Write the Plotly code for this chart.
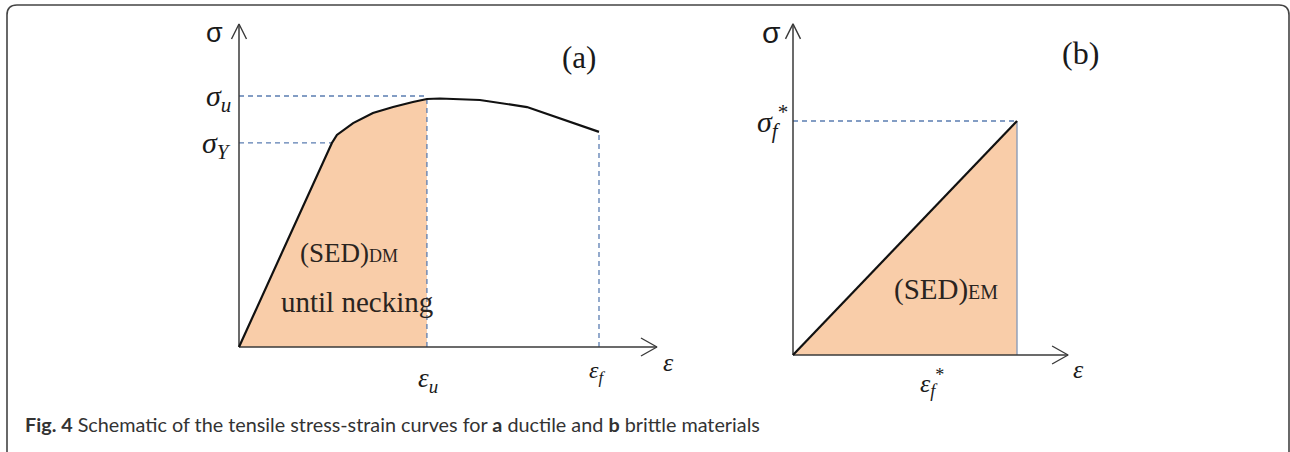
import plotly.graph_objects as go

# ---- panel (a): ductile material (normalised strain / stress) ----
A_STRAIN = [0.0, 0.258, 0.272, 0.317, 0.372, 0.428, 0.483, 0.522, 0.558, 0.669, 0.800, 0.856, 1.000]
A_STRESS = [0.0, 0.813, 0.845, 0.892, 0.932, 0.956, 0.976, 0.988, 0.990, 0.984, 0.956, 0.928, 0.857]
A_EPS_U, A_EPS_F = 0.522, 1.0
A_SIG_U, A_SIG_Y = 1.0, 0.813
A_X_END, A_Y_END = 1.161, 1.287

# ---- panel (b): brittle material ----
B_STRAIN = [0.0, 1.0]
B_STRESS = [0.0, 1.0]
B_EPS_F, B_SIG_F = 1.0, 1.0
B_X_END, B_Y_END = 1.228, 1.415

CAPTION = ("<b>Fig. 4</b> Schematic of the tensile stress-strain curves for "
           "<b>a</b> ductile and <b>b</b> brittle materials")

# ---- page geometry (pixels) ----
W, H = 1290, 452
SPLIT = 709
A_ORIGIN, A_UNIT = (239, 347), (360, 251)
B_ORIGIN, B_UNIT = (793, 355), (224, 234)

PEACH = "#F9CDA9"
DASH = "#5B7DB1"
AXIS = "#3A3A3A"
SERIF = "Liberation Serif, serif"
SANS = "Liberation Sans, Arial, sans-serif"


def x_range(d0, d1, origin, unit):
    return [(d0 - origin) / unit, (d1 - origin) / unit]


def y_range(origin, unit):
    return [(origin - H) / unit, origin / unit]


fig = go.Figure()


def line(x, y, xa, ya, color=AXIS, width=1.5, dash=None):
    fig.add_trace(go.Scatter(x=x, y=y, xaxis=xa, yaxis=ya, mode="lines", hoverinfo="skip",
                             line=dict(color=color, width=width, dash=dash)))


def axes_arrows(xa, ya, x_end, y_end, unit):
    ux, uy = unit
    line([0, 0], [0, y_end], xa, ya)
    line([0, x_end], [0, 0], xa, ya)
    # open chevron heads
    line([-7.5 / ux, 0, 7.5 / ux], [y_end - 15 / uy, y_end, y_end - 15 / uy], xa, ya, width=1.4)
    line([x_end - 16 / ux, x_end, x_end - 16 / ux], [9 / uy, 0, -9 / uy], xa, ya, width=1.4)


# panel (a)
n_u = A_STRAIN.index(A_EPS_U) + 1
fig.add_trace(go.Scatter(x=A_STRAIN[:n_u], y=A_STRESS[:n_u], xaxis="x", yaxis="y", mode="lines",
                         fill="tozeroy", fillcolor=PEACH, line=dict(width=0), hoverinfo="skip"))
line([0, A_EPS_U], [A_SIG_U, A_SIG_U], "x", "y", DASH, 1.3, "5px,4px")
line([0, A_STRAIN[1]], [A_SIG_Y, A_SIG_Y], "x", "y", DASH, 1.3, "5px,4px")
line([A_EPS_U, A_EPS_U], [0, A_SIG_U], "x", "y", DASH, 1.3, "5px,4px")
line([A_EPS_F, A_EPS_F], [0, A_STRESS[-1]], "x", "y", DASH, 1.3, "5px,4px")
axes_arrows("x", "y", A_X_END, A_Y_END, A_UNIT)
line(A_STRAIN, A_STRESS, "x", "y", "#111111", 2.2)

# panel (b)
fig.add_trace(go.Scatter(x=B_STRAIN, y=B_STRESS, xaxis="x2", yaxis="y2", mode="lines",
                         fill="tozeroy", fillcolor=PEACH, line=dict(width=0), hoverinfo="skip"))
line([0, B_EPS_F], [B_SIG_F, B_SIG_F], "x2", "y2", DASH, 1.3, "5px,4px")
line([B_EPS_F, B_EPS_F], [0, B_SIG_F], "x2", "y2", "#8C9CB8", 1.4)
axes_arrows("x2", "y2", B_X_END, B_Y_END, B_UNIT)
line(B_STRAIN, B_STRESS, "x2", "y2", "#111111", 2.2)

ann = []


def label(text, x, y, xref, yref, dx=0, dy=0, size=22, family=SERIF, xanchor="center",
          yanchor="middle", color="#1a1a1a"):
    ann.append(dict(text=text, x=x, y=y, xref=xref, yref=yref, xshift=dx, yshift=dy,
                    xanchor=xanchor, yanchor=yanchor, showarrow=False,
                    font=dict(size=size, family=family, color=color)))


# panel (a) labels
label("σ", 0, A_Y_END, "x", "y", -14, -9, 27, SANS, "right")
label("(a)", 579 / W, 1 - 58 / H, "paper", "paper", size=31)
label("<i>σ</i><sub><i>u</i></sub>", 0, A_SIG_U, "x", "y", -6, -2, 30, xanchor="right")
label("<i>σ</i><sub><i>Y</i></sub>", 0, A_SIG_Y, "x", "y", -6, -2, 30, xanchor="right")
label("<i>ε</i><sub><i>u</i></sub>", A_EPS_U, 0, "x", "y", 1, -33, 27)
label("<i>ε</i><sub><i>f</i></sub>", A_EPS_F, 0, "x", "y", -2, -25, 24)
label("<i>ε</i>", A_X_END, 0, "x", "y", 4, -15, 26, xanchor="left")
label("(SED)<span style='font-size:18px'>DM</span>", 349 / W, 1 - 253 / H, "paper", "paper",
      size=27, color="#2a2420")
label("until necking", 357 / W, 1 - 302 / H, "paper", "paper", size=29, color="#2a2420")

# panel (b) labels
label("σ", 0, B_Y_END, "x2", "y2", -10, -9, 30, SANS, "right")
label("(b)", 1080 / W, 1 - 53 / H, "paper", "paper", size=32)
label("<i>σ</i><sub><i>f</i></sub><sup>*</sup>", 0, B_SIG_F, "x2", "y2", -3, 0, 30, xanchor="right")
label("<i>ε</i><sub><i>f</i></sub><sup>*</sup>", B_EPS_F / 2 + 0.12, 0, "x2", "y2", 0, -28, 26)
label("<i>ε</i>", B_X_END, 0, "x2", "y2", 3, -14, 26, xanchor="left")
label("(SED)<span style='font-size:20px'>EM</span>", 946 / W, 1 - 289 / H, "paper", "paper",
      size=29, color="#2a2420")

# caption
label(CAPTION, 23 / W, 1 - 424 / H, "paper", "paper", size=19.8, family="Lato, sans-serif",
      xanchor="left", color="#333333")

# rounded frame, cut off at the bottom and right edge
r = 10
x0, y0, x1, y1 = 7, 5, 1289, 470
px = lambda v: v / W
py = lambda v: 1 - v / H
frame = (f"M {px(x0)},{py(y1)} L {px(x0)},{py(y0 + r)} Q {px(x0)},{py(y0)} {px(x0 + r)},{py(y0)} "
         f"L {px(x1 - r)},{py(y0)} Q {px(x1)},{py(y0)} {px(x1)},{py(y0 + r)} L {px(x1)},{py(y1)}")

hidden = dict(visible=False, fixedrange=True)
fig.update_layout(
    width=W, height=H,
    margin=dict(l=0, r=0, t=0, b=0),
    paper_bgcolor="white", plot_bgcolor="white",
    showlegend=False,
    xaxis=dict(domain=[0, SPLIT / W], range=x_range(0, SPLIT, A_ORIGIN[0], A_UNIT[0]), **hidden),
    yaxis=dict(domain=[0, 1], range=y_range(A_ORIGIN[1], A_UNIT[1]), **hidden),
    xaxis2=dict(domain=[SPLIT / W, 1], range=x_range(SPLIT, W, B_ORIGIN[0], B_UNIT[0]), **hidden),
    yaxis2=dict(domain=[0, 1], range=y_range(B_ORIGIN[1], B_UNIT[1]), anchor="x2", **hidden),
    annotations=ann,
    shapes=[dict(type="path", path=frame, xref="paper", yref="paper",
                 line=dict(color="#444444", width=1.6))],
)

# page body has a default 8px margin; drop it so the frame lines up with the window
fig.write_html("out.html", config={"displayModeBar": False},
               post_script="document.body.style.margin='0';")
